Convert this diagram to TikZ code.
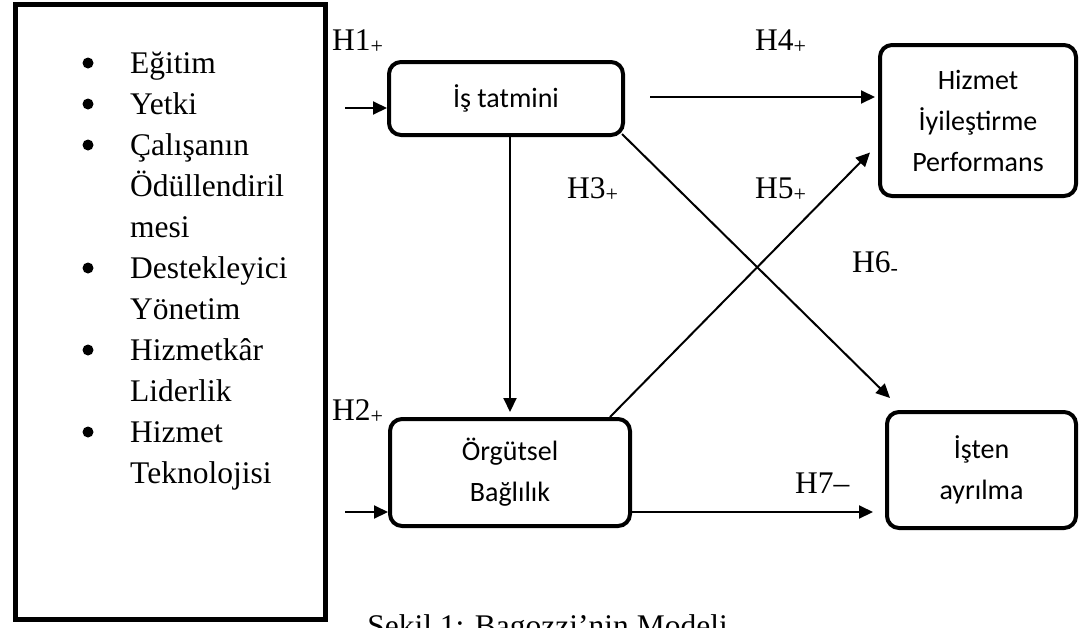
\documentclass[tikz,border=0pt]{standalone}
\usepackage{fontspec}
\setmainfont{Liberation Serif}
\newfontfamily\boxfont{Carlito}
\usetikzlibrary{arrows.meta,positioning}

\begin{document}
\begin{tikzpicture}[x=1pt, y=-1pt,
  every node/.style={font=\fontsize{31.5}{41}\selectfont, inner sep=0pt},
  factor/.style={draw, line width=4pt, rounded corners=12pt, align=center,
    font=\boxfont\fontsize{28}{41}\selectfont},
  link/.style={line width=2pt, -{Triangle[length=14pt, width=13pt]}}]
  \clip (0,0) rectangle (1086,627);

  % Antecedents
  \node[draw, line width=5pt, minimum width=310pt, minimum height=615pt] (antec) at (170.5,312) {};
  \foreach \txt/\blt [count=\i] in {Eğitim/1, Yetki/1, Çalışanın/1, Ödüllendiril/0, mesi/0,
      Destekleyici/1, Yönetim/0, Hizmetkâr/1, Liderlik/0, Hizmet/1, Teknolojisi/0} {
    \node[anchor=base west] (item\i) at (130, 32+41*\i) {\txt};
    \ifnum\blt=1 \node[circle, fill, minimum size=11pt] (dot\i) at (88, 22+41*\i) {}; \fi
  }

  % Nodes
  \node[factor, minimum width=234pt, minimum height=73pt]  (tatmin) at (506,98.5)   {İş tatmini};
  \node[factor, minimum width=240pt, minimum height=107pt] (orgut)  at (510,472.5)  {Örgütsel\\Bağlılık};
  \node[factor, minimum width=196pt, minimum height=151pt] (hizmet) at (978,120.5)  {Hizmet\\İyileştirme\\Performans};
  \node[factor, minimum width=189pt, minimum height=116pt] (isten)  at (981.5,470)  {İşten\\ayrılma};

  % Free ends
  \coordinate (h1s) at (345,108);
  \coordinate (h2s) at (345,512);
  \coordinate (h4s) at (650,97);
  \coordinate (h7e) at (873,512);

  % Edges
  \draw[link] (h1s) -- (h1s -| tatmin.west);
  \draw[link] (h2s) -- (h2s -| orgut.west);
  \draw[link, shorten >=5pt] ([xshift=4pt]tatmin.south) -- ([xshift=4pt]tatmin.south |- orgut.north);
  \draw[link, shorten >=3pt] (h4s) -- (h4s -| hizmet.west);
  \draw[link] ([xshift=-22pt]orgut.north east) -- ([xshift=-8pt, yshift=-32pt]hizmet.west);
  \draw[link] ([shift={(-3pt,3pt)}]tatmin.south east) -- ([xshift=5pt, yshift=12pt]isten.north west);
  \draw[link] (orgut.east |- h7e) -- (h7e);

  % Hypotheses
  \node[anchor=base west] (lh1) at (332,50)  {H1\textsubscript{+}};
  \node[anchor=base west] (lh2) at (332,420) {H2\textsubscript{+}};
  \node[anchor=base west] (lh3) at (567,198) {H3\textsubscript{+}};
  \node[anchor=base west] (lh4) at (755,50)  {H4\textsubscript{+}};
  \node[anchor=base west] (lh5) at (755,198) {H5\textsubscript{+}};
  \node[anchor=base west] (lh6) at (852,272) {H6\textsubscript{-}};
  \node[anchor=base west] (lh7) at (795,493) {H7–};

  % Caption
  \node[anchor=base] (caption) at (547.5,636) {Şekil 1: Bagozzi'nin Modeli};
\end{tikzpicture}
\end{document}
